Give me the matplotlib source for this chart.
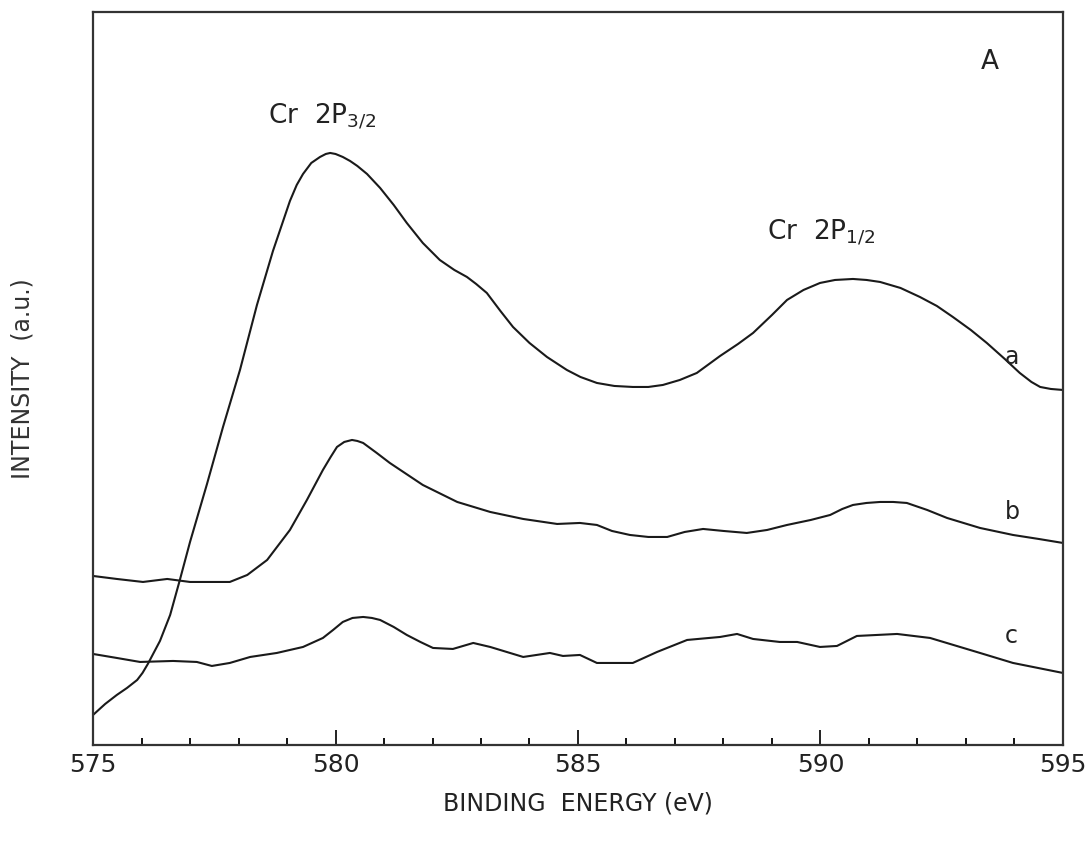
import matplotlib
matplotlib.use('Agg')
import matplotlib.pyplot as plt
from matplotlib.ticker import MultipleLocator

# XPS Cr 2p spectra, traces a, b, c (intensity in arbitrary units)

energy_a = [575.0, 575.25, 575.49, 575.7, 575.91, 576.02, 576.13, 576.38, 576.59, 576.79,
            577.0, 577.35, 577.68, 578.03, 578.38, 578.71, 579.06, 579.2, 579.33, 579.5,
            579.68, 579.8, 579.89, 580.0, 580.15, 580.3, 580.45, 580.65, 580.92, 581.2,
            581.47, 581.8, 582.15, 582.45, 582.71, 582.9, 583.12, 583.4, 583.66, 584.0,
            584.36, 584.77, 585.05, 585.39, 585.75, 586.13, 586.45, 586.75, 587.1, 587.45,
            587.93, 588.3, 588.61, 589.0, 589.31, 589.65, 589.99, 590.3, 590.67, 590.95,
            591.23, 591.65, 592.05, 592.4, 592.73, 593.1, 593.43, 593.8, 594.11, 594.35,
            594.53, 594.75, 595.0]
int_a = [30, 41, 50, 57, 65, 72, 81, 104, 130, 165,
         203, 261, 318, 375, 440, 494, 544, 560, 571, 582,
         588, 591, 592, 591, 588, 584, 579, 571, 557, 540,
         522, 502, 485, 475, 468, 461, 452, 434, 418, 402,
         388, 375, 368, 362, 359, 358, 358, 360, 365, 372,
         389, 401, 412, 430, 445, 455, 462, 465, 466, 465,
         463, 457, 448, 439, 428, 415, 402, 386, 372, 363,
         358, 356, 355]

energy_b = [575.0, 575.49, 576.03, 576.53, 577.0, 577.82, 578.18, 578.59, 579.06, 579.41,
            579.74, 579.9, 580.03, 580.18, 580.34, 580.45, 580.57, 580.85, 581.12, 581.8,
            582.51, 583.19, 583.87, 584.57, 585.04, 585.39, 585.7, 586.07, 586.45, 586.84,
            587.2, 587.58, 588.0, 588.48, 588.9, 589.31, 589.8, 590.2, 590.45, 590.67,
            590.95, 591.23, 591.5, 591.78, 592.2, 592.61, 593.29, 593.97, 594.5, 595.0]
int_b = [169, 166, 163, 166, 163, 163, 170, 185, 215, 245,
         275, 288, 298, 303, 305, 304, 302, 292, 282, 260,
         243, 233, 226, 221, 222, 220, 214, 210, 208, 208,
         213, 216, 214, 212, 215, 220, 225, 230, 236, 240,
         242, 243, 243, 242, 235, 227, 217, 210, 206, 202]

energy_c = [575.0, 575.49, 575.97, 576.65, 577.14, 577.45, 577.82, 578.24, 578.79, 579.33,
            579.74, 579.95, 580.15, 580.35, 580.57, 580.75, 580.92, 581.2, 581.47, 581.75,
            582.01, 582.42, 582.84, 583.19, 583.87, 584.42, 584.69, 585.04, 585.39, 586.13,
            586.63, 587.25, 587.93, 588.28, 588.61, 589.16, 589.52, 589.99, 590.34, 590.75,
            591.58, 592.26, 593.29, 593.97, 595.0]
int_c = [91, 87, 83, 84, 83, 79, 82, 88, 92, 98,
         107, 115, 123, 127, 128, 127, 125, 118, 110, 103,
         97, 96, 102, 98, 88, 92, 89, 90, 82, 82,
         93, 105, 108, 111, 106, 103, 103, 98, 99, 109,
         111, 107, 92, 82, 72]

xticks = [575, 580, 585, 590, 595]

fig = plt.figure(figsize=(10.92, 8.43), dpi=100)
ax = fig.add_axes([0.0852, 0.1163, 0.8882, 0.8695])

ax.plot(energy_a, int_a, color='#1a1a1a', lw=1.5)
ax.plot(energy_b, int_b, color='#1a1a1a', lw=1.5)
ax.plot(energy_c, int_c, color='#1a1a1a', lw=1.5)

ax.set_xlim(575, 595)
ax.set_ylim(0, 733)
ax.set_xticks(xticks)
ax.set_xticklabels([str(t) for t in xticks])
ax.xaxis.set_minor_locator(MultipleLocator(1))
ax.set_yticks([])
ax.tick_params(axis='x', which='major', direction='in', length=11, width=1.4,
               labelsize=18, pad=6, colors='#222222')
ax.tick_params(axis='x', which='minor', direction='in', length=5, width=1.3)
for s in ax.spines.values():
    s.set_linewidth(1.6)
    s.set_color('#333333')

ax.set_xlabel('BINDING  ENERGY (eV)', fontsize=17, labelpad=10, color='#222222')
ax.set_ylabel('INTENSITY  (a.u.)', fontsize=17, labelpad=42, color='#333333')

ax.text(578.6, 628, r'Cr  2P$_{3/2}$', fontsize=19, va='center', color='#222222')
ax.text(588.9, 512, r'Cr  2P$_{1/2}$', fontsize=19, va='center', color='#222222')
ax.text(593.3, 683, 'A', fontsize=19, va='center', color='#222222')
ax.text(593.8, 388, 'a', fontsize=17, va='center', color='#222222')
ax.text(593.8, 233, 'b', fontsize=17, va='center', color='#222222')
ax.text(593.8, 109, 'c', fontsize=17, va='center', color='#222222')

fig.savefig('out.png', dpi=100)
